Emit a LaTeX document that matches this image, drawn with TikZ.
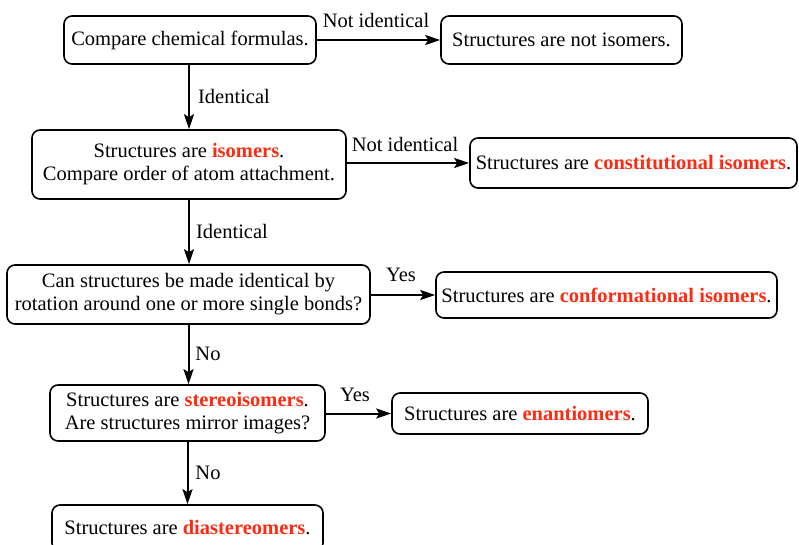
\documentclass[tikz,border=0pt]{standalone}
\usepackage{fontspec}
\setmainfont{Liberation Serif}
\usetikzlibrary{arrows.meta}
\definecolor{isored}{RGB}{250,45,20}
\newcommand{\hl}[1]{\textcolor{isored}{\textbf{#1}}}
\tikzset{
  box/.style={draw, line width=1.6pt, rounded corners=8pt, align=center, inner sep=0pt,
    font=\fontsize{20.5}{23}\selectfont},
  lbl/.style={font=\fontsize{20.5}{23}\selectfont, inner sep=0pt},
  arr/.style={line width=2pt, -{Stealth[length=15pt,width=10pt,inset=3pt]}}
}
\begin{document}
\begin{tikzpicture}[x=1pt,y=-1pt]
\useasboundingbox (0,0) rectangle (799,544);
\node[box, minimum width=252pt, minimum height=48pt] (a) at (190,40) {Compare chemical formulas.};
\node[box, minimum width=241pt, minimum height=48pt] (b) at (561.5,40) {Structures are not isomers.};
\node[box, minimum width=314pt, minimum height=69pt] (c) at (189,164.5) {Structures are \hl{isomers}.\\Compare order of atom attachment.};
\node[box, minimum width=327pt, minimum height=50pt] (d) at (633.5,163) {Structures are \hl{constitutional isomers}.};
\node[box, minimum width=363pt, minimum height=59pt] (e) at (188.5,294.5) {Can structures be made identical by\\rotation around one or more single bonds?};
\node[box, minimum width=341pt, minimum height=46pt] (f) at (606.5,295) {Structures are \hl{conformational isomers}.};
\node[box, minimum width=275pt, minimum height=56pt] (g) at (187.5,413) {Structures are \hl{stereoisomers}.\\Are structures mirror images?};
\node[box, minimum width=256pt, minimum height=41pt] (h) at (520,413.5) {Structures are \hl{enantiomers}.};
\node[box, minimum width=271pt, minimum height=46pt] (i) at (187.5,528) {Structures are \hl{diastereomers}.};

\draw[arr] (a.east) -- (b.west);
\draw[arr] (c.east |- d.west) -- (d.west);
\draw[arr] (e.east |- f.west) -- (f.west);
\draw[arr] (g.east |- h.west) -- (h.west);
\draw[arr] (a.south -| c.north) -- (c.north);
\draw[arr] (c.south) -- (e.north -| c.south);
\draw[arr] (e.south) -- (g.north -| e.south);
\draw[arr] (g.south) -- (i.north -| g.south);

\node[lbl] (l1) at (376,20) {Not identical};
\node[lbl] (l2) at (405,144) {Not identical};
\node[lbl] (l3) at (234,96) {Identical};
\node[lbl] (l4) at (232,231) {Identical};
\node[lbl] (l5) at (401,275) {Yes};
\node[lbl] (l6) at (355,395) {Yes};
\node[lbl] (l7) at (208,354) {No};
\node[lbl] (l8) at (208,473) {No};
\end{tikzpicture}
\end{document}
